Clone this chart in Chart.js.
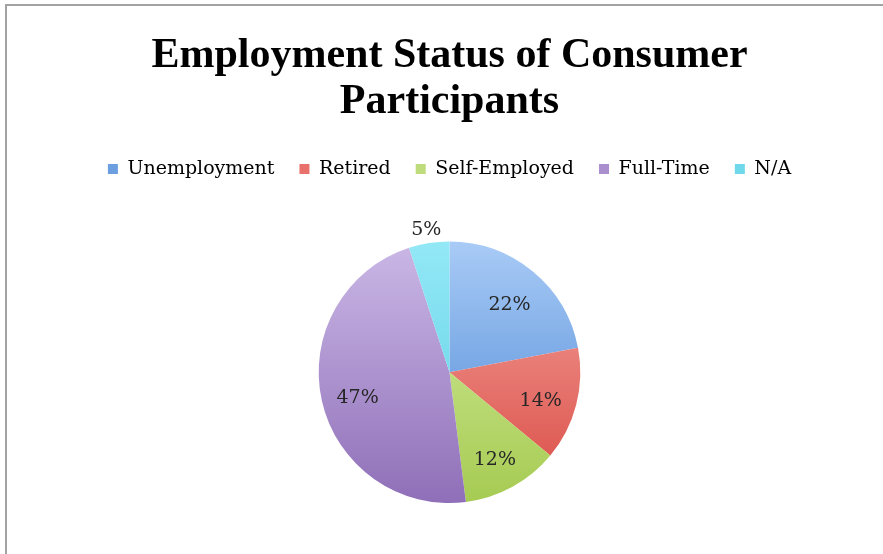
<!DOCTYPE html>
<html>
<head>
<meta charset="utf-8">
<script src="https://cdn.jsdelivr.net/npm/chart.js@4/dist/chart.umd.min.js"></script>
<style>
  html, body { margin: 0; padding: 0; background: #fff; overflow: hidden; }
  body { width: 883px; height: 554px; position: relative; }
  .frame {
    position: absolute; left: 5px; top: 4px; width: 900px; height: 600px;
    border-top: 2px solid #a3a3a3; border-left: 2px solid #a3a3a3;
  }
  .wrap { position: absolute; left: 8px; top: 0; width: 883px; height: 554px; }
</style>
</head>
<body>
<div class="frame"></div>
<div class="wrap"><canvas id="pieChart"></canvas></div>
<script>
/* Employment status pie */
const categories = ['Unemployment', 'Retired', 'Self-Employed', 'Full-Time', 'N/A'];
const shares = [22, 14, 12, 47, 5];
const titleLines = ['Employment Status of Consumer', 'Participants'];

/* light (top) / dark (bottom) stops for each slice, mid tone for legend */
const lightColors = ['#a9cbf6', '#f5a6a0', '#d6eea4', '#cbb8e6', '#93e8f6'];
const darkColors = ['#4583d3', '#d94a43', '#a6cb52', '#8f6fb8', '#5acde2'];
const legendColors = ['#6b9fe0', '#e8716b', '#bfdc7c', '#a98fce', '#6fd8ea'];

function sliceFill(context) {
  const chart = context.chart;
  const area = chart.chartArea;
  if (!area) return lightColors[context.dataIndex];
  const g = chart.ctx.createLinearGradient(0, area.top, 0, area.bottom);
  g.addColorStop(0, lightColors[context.dataIndex]);
  g.addColorStop(1, darkColors[context.dataIndex]);
  return g;
}

/* extra room under the legend before the pie */
const legendGap = {
  id: 'legendGap',
  beforeInit(chart) {
    const fit = chart.legend.fit;
    chart.legend.fit = function () {
      fit.call(this);
      this.height += 53;
    };
  }
};

/* percent labels: inside for big slices, outside for small ones */
const percentLabels = {
  id: 'percentLabels',
  afterDatasetsDraw(chart) {
    const ctx = chart.ctx;
    const meta = chart.getDatasetMeta(0);
    ctx.save();
    ctx.font = '19px "DejaVu Serif"';
    ctx.fillStyle = '#262626';
    ctx.textAlign = 'center';
    ctx.textBaseline = 'middle';
    meta.data.forEach((arc, i) => {
      const mid = (arc.startAngle + arc.endAngle) / 2;
      const r = shares[i] >= 10 ? arc.outerRadius * 0.72 : arc.outerRadius + 18;
      // small downward nudge to sit like the original labels
      ctx.fillText(shares[i] + '%', arc.x + Math.cos(mid) * r, arc.y + Math.sin(mid) * r + 5);
    });
    ctx.restore();
  }
};

new Chart(document.getElementById('pieChart'), {
  type: 'pie',
  data: {
    labels: categories,
    datasets: [{
      data: shares,
      backgroundColor: sliceFill,
      borderWidth: 0
    }]
  },
  options: {
    responsive: true,
    maintainAspectRatio: false,
    animation: false,
    layout: { padding: { top: 33, bottom: 51 } },
    plugins: {
      title: {
        display: true,
        text: titleLines,
        color: '#000',
        font: { family: '"Liberation Serif"', size: 42, weight: 'bold', lineHeight: 1.1 },
        padding: { top: 0, bottom: 9 }
      },
      legend: {
        position: 'top',
        labels: {
          color: '#222',
          font: { family: '"DejaVu Serif"', size: 19 },
          boxWidth: 10,
          boxHeight: 10,
          padding: 25,
          generateLabels(chart) {
            return categories.map((name, i) => ({
              text: name,
              fillStyle: legendColors[i],
              strokeStyle: legendColors[i],
              lineWidth: 0,
              hidden: false,
              index: i
            }));
          }
        }
      },
      tooltip: { enabled: false }
    }
  },
  plugins: [legendGap, percentLabels]
});
</script>
</body>
</html>
